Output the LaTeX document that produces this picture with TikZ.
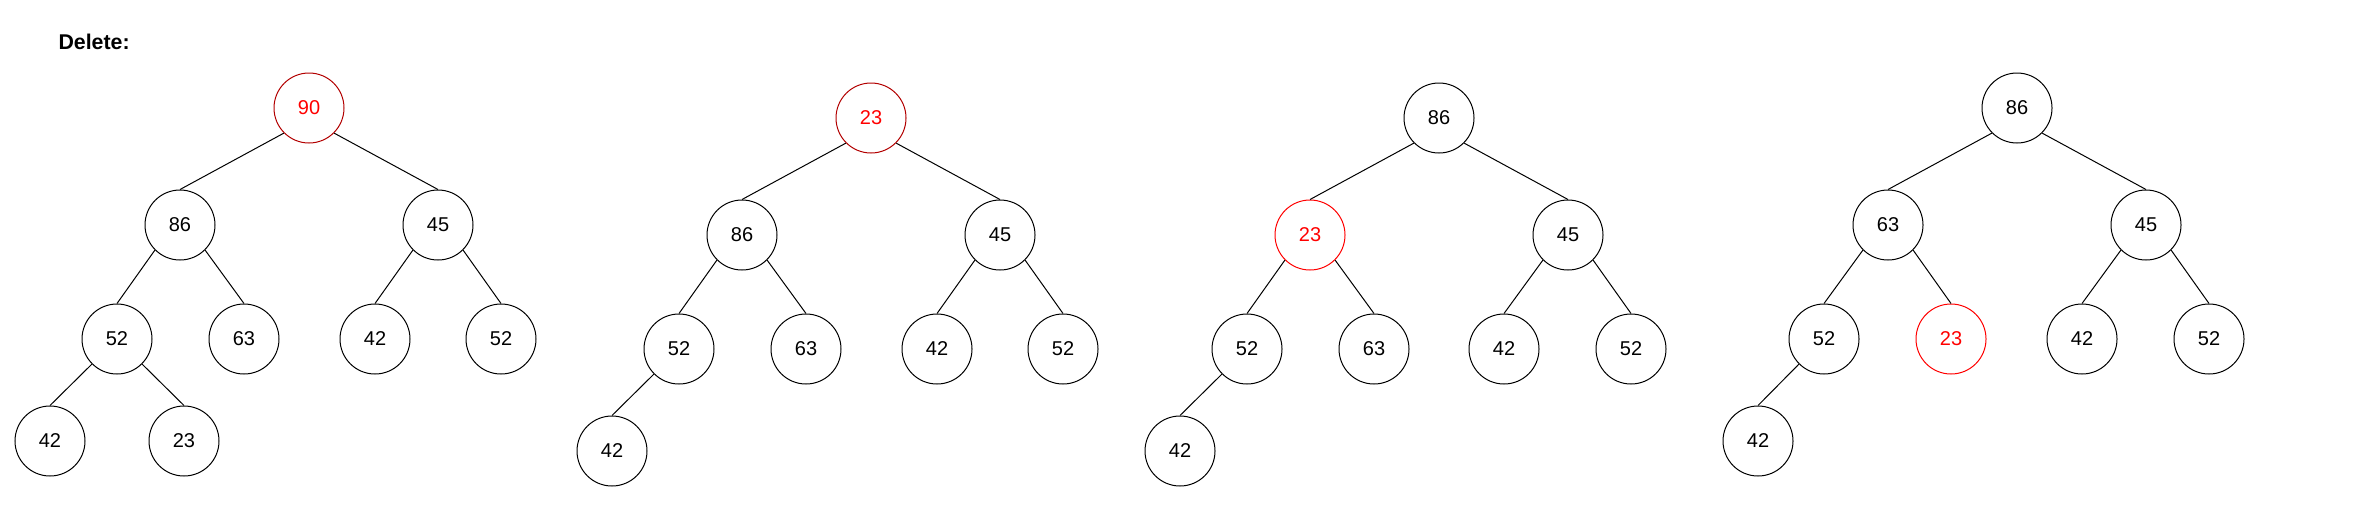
\documentclass[tikz,border=0pt]{standalone}
\usepackage{fontspec}
\setmainfont{Liberation Sans}
\tikzset{
  heapnode/.style = {circle, draw, line width=0.75pt, minimum size=52.5pt, inner sep=0pt, font=\fontsize{15}{18}\selectfont},
  marked/.style = {draw=red!70!black, text=red},
  swapped/.style = {draw=red, text=red}
}
\colorlet{edgecol}{black}

\begin{document}
\begin{tikzpicture}[x=0.75pt,y=-0.75pt,line width=0.75pt]
  \useasboundingbox (0,0) rectangle (2380,511);
  % title
  \node (title) at (58,49) [anchor=base west, inner sep=0pt, font=\fontsize{16}{19}\selectfont\bfseries] {Delete:};
  % tree 1
  \node (a1) at (309,108) [heapnode, marked] {90};
  \node (a2) at (180,225) [heapnode] {86};
  \node (a3) at (438,225) [heapnode] {45};
  \node (a4) at (117,339) [heapnode] {52};
  \node (a5) at (244,339) [heapnode] {63};
  \node (a6) at (375,339) [heapnode] {42};
  \node (a7) at (501,339) [heapnode] {52};
  \node (a8) at (50,441) [heapnode] {42};
  \node (a9) at (184,441) [heapnode] {23};
  % tree 2
  \node (b1) at (871,118) [heapnode, marked] {23};
  \node (b2) at (742,235) [heapnode] {86};
  \node (b3) at (1000,235) [heapnode] {45};
  \node (b4) at (679,349) [heapnode] {52};
  \node (b5) at (806,349) [heapnode] {63};
  \node (b6) at (937,349) [heapnode] {42};
  \node (b7) at (1063,349) [heapnode] {52};
  \node (b8) at (612,451) [heapnode] {42};
  % tree 3
  \node (c1) at (1439,118) [heapnode] {86};
  \node (c2) at (1310,235) [heapnode, swapped] {23};
  \node (c3) at (1568,235) [heapnode] {45};
  \node (c4) at (1247,349) [heapnode] {52};
  \node (c5) at (1374,349) [heapnode] {63};
  \node (c6) at (1504,349) [heapnode] {42};
  \node (c7) at (1631,349) [heapnode] {52};
  \node (c8) at (1180,451) [heapnode] {42};
  % tree 4
  \node (d1) at (2017,108) [heapnode] {86};
  \node (d2) at (1888,225) [heapnode] {63};
  \node (d3) at (2146,225) [heapnode] {45};
  \node (d4) at (1824,339) [heapnode] {52};
  \node (d5) at (1951,339) [heapnode, swapped] {23};
  \node (d6) at (2082,339) [heapnode] {42};
  \node (d7) at (2209,339) [heapnode] {52};
  \node (d8) at (1758,441) [heapnode] {42};
  % edges
  \foreach \p/\c in {a1/a2,a2/a4,a3/a6,a4/a8,b1/b2,b2/b4,b3/b6,b4/b8,c1/c2,c2/c4,c3/c6,c4/c8,d1/d2,d2/d4,d3/d6,d4/d8}
    \draw[edgecol] (\p.south west) -- (\c.north);
  \foreach \p/\c in {a1/a3,a2/a5,a3/a7,a4/a9,b1/b3,b2/b5,b3/b7,c1/c3,c2/c5,c3/c7,d1/d3,d2/d5,d3/d7}
    \draw[edgecol] (\p.south east) -- (\c.north);
\end{tikzpicture}
\end{document}
